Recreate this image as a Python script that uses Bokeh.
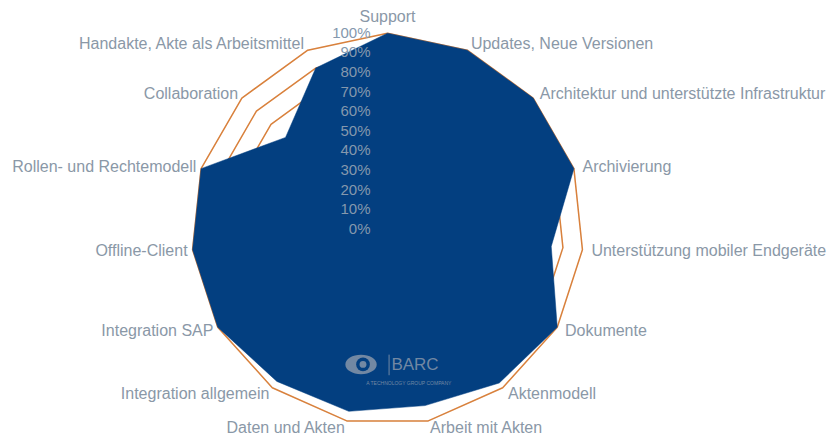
import math
from bokeh.plotting import figure
from bokeh.models import Range1d, ColumnDataSource
from bokeh.core.properties import value
from bokeh.embed import file_html
from bokeh.resources import INLINE

categories = ["Support", "Updates, Neue Versionen", "Architektur und unterstützte Infrastruktur",
              "Archivierung", "Unterstützung mobiler Endgeräte", "Dokumente", "Aktenmodell",
              "Arbeit mit Akten", "Daten und Akten", "Integration allgemein", "Integration SAP",
              "Offline-Client", "Rollen- und Rechtemodell", "Collaboration",
              "Handakte, Akte als Arbeitsmittel"]
series_outer = [100, 100, 100, 100, 100, 100, 100, 100, 100, 100, 100, 100, 100, 100, 100]
series_mid = [90, 90, 90, 90, 90, 90, 90, 90, 90, 90, 90, 90, 90, 90, 90]
series_inner = [80, 80, 80, 80, 80, 80, 80, 80, 80, 80, 80, 80, 80, 80, 80]
series_product = [100, 100, 100, 100, 84, 100, 97, 92, 95, 96, 100, 100, 100, 70, 90]
ticks = [0, 10, 20, 30, 40, 50, 60, 70, 80, 90, 100]

W, H = 827, 436
CX, CY, PX = 387, 228.7, 1.96
FONT = value("Liberation Sans")
TXT = "#8a98a7"
ORANGE = "#d9813c"
BLUE = "#033f80"

p = figure(width=W, height=H, output_backend="svg", toolbar_location=None,
           x_range=Range1d(-CX / PX, (W - CX) / PX),
           y_range=Range1d(-(H - CY) / PX, CY / PX),
           min_border=0, outline_line_color=None)
p.xaxis.visible = False
p.yaxis.visible = False
p.xgrid.visible = False
p.ygrid.visible = False

n = len(categories)
angles = [2 * math.pi * i / n for i in range(n)]

def ring(vals):
    xs = [v * math.sin(a) for v, a in zip(vals, angles)]
    ys = [v * math.cos(a) for v, a in zip(vals, angles)]
    return xs + xs[:1], ys + ys[:1]

for t in ticks[1:]:
    gx, gy = ring([t] * n)
    p.line(gx, gy, line_color="#f1f1f1", line_width=1)

for s in (series_outer, series_mid, series_inner):
    lx, ly = ring(s)
    p.line(lx, ly, line_color=ORANGE, line_width=1.5)

bx, by = ring(series_product)
p.patch(bx, by, fill_color=BLUE, line_color=BLUE, line_width=0.5)

# category labels
rows = dict(x=[], y=[], t=[], a=[], xo=[], yo=[])
for c, a, in zip(categories, angles):
    s, co = math.sin(a), math.cos(a)
    rows["x"].append(100 * s)
    rows["y"].append(100 * co)
    rows["t"].append(c)
    if abs(s) < 1e-9:
        rows["a"].append("center")
        rows["xo"].append(0)
        rows["yo"].append(-17)
    else:
        rows["a"].append("left" if s > 0 else "right")
        rows["xo"].append((9 if s > 0 else 5) * s)
        rows["yo"].append(-7 * co)
p.text("x", "y", text="t", source=ColumnDataSource(rows), text_align="a",
       text_baseline="middle", x_offset="xo", y_offset="yo",
       text_font=FONT, text_font_size="16px", text_color=TXT)

# radial axis tick labels
p.text([0] * len(ticks), ticks, text=[f"{t}%" for t in ticks], text_align="right",
       text_baseline="middle", x_offset=-17, y_offset=-1,
       text_font=FONT, text_font_size="15px", text_color="#8598ad")

# watermark logo
LOGO = "#7288a3"
p.ellipse([-13.5], [-69], width=16, height=10, fill_color=LOGO, line_color=None)
p.ellipse([-12.5], [-69], width=7, height=7, fill_color=BLUE, line_color=None)
p.ellipse([-12.5], [-69], width=3.5, height=3.5, fill_color=LOGO, line_color=None)
p.line([0.8, 0.8], [-64, -74.5], line_color=LOGO, line_width=1)
p.text([2], [-69], text=["BARC"], text_align="left", text_baseline="middle",
       text_font=FONT, text_font_size="17px", text_color=LOGO)
p.text([11], [-78.3], text=["A TECHNOLOGY GROUP COMPANY"], text_align="center", text_baseline="middle",
       text_font=FONT, text_font_size="5px", text_color=LOGO)

open("out.html", "w").write(file_html(p, INLINE))
